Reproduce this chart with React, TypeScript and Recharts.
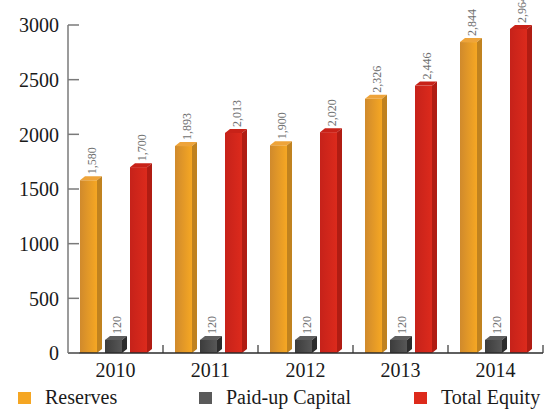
import { BarChart, Bar, XAxis, YAxis, Legend, LabelList } from "recharts";

const years = ["2010", "2011", "2012", "2013", "2014"];
const reserves = [1580, 1893, 1900, 2326, 2844];
const paidUpCapital = [120, 120, 120, 120, 120];
const totalEquity = [1700, 2013, 2020, 2446, 2964];
const yTicks = [0, 500, 1000, 1500, 2000, 2500, 3000];

const seriesNames = ["Reserves", "Paid-up Capital", "Total Equity"];

const W = 552;
const H = 412;
const MARGIN = { top: 25, right: 9, left: 0, bottom: 0 };
const Y_AXIS_W = 68;
const BAND = (W - MARGIN.left - MARGIN.right - Y_AXIS_W) / years.length;
const FONT = "'Liberation Serif', 'Times New Roman', serif";

const tableData = years.map((year, i) => ({
  year,
  reserves: reserves[i],
  paidUp: paidUpCapital[i],
  equity: totalEquity[i],
}));

// face colours for the 3D bars
const palette = {
  reserves: { grad: "gradReserves", top: "#eea43a", side: "#c0821f", legend: "#f5a623" },
  paidUp: { grad: "gradPaid", top: "#5e5e5e", side: "#2c2c2c", legend: "#5a5a5a" },
  equity: { grad: "gradEquity", top: "#c82218", side: "#b01c13", legend: "#dd2a1b" },
};

const DEPTH_X = 5;
const DEPTH_Y = 4;

const makeShape = (key: keyof typeof palette) => (props: any) => {
  const { x, y, width, height } = props;
  if (height == null || width == null) return null;
  const c = palette[key];
  const fw = width - DEPTH_X;
  const bottom = y + height;
  return (
    <g>
      <rect x={x} y={y} width={fw} height={height} fill={`url(#${c.grad})`} />
      <polygon
        points={`${x},${y} ${x + DEPTH_X},${y - DEPTH_Y} ${x + fw + DEPTH_X},${y - DEPTH_Y} ${x + fw},${y}`}
        fill={c.top}
      />
      <polygon
        points={`${x + fw},${y} ${x + fw + DEPTH_X},${y - DEPTH_Y} ${x + fw + DEPTH_X},${bottom - DEPTH_Y} ${x + fw},${bottom}`}
        fill={c.side}
      />
    </g>
  );
};

const valueLabel = (props: any) => {
  const { x, y, width, value } = props;
  const cx = x + width / 2 + 1;
  const ty = y - 6;
  return (
    <text
      x={cx}
      y={ty}
      transform={`rotate(-90, ${cx}, ${ty})`}
      textAnchor="start"
      dominantBaseline="central"
      fontFamily={FONT}
      fontSize={12}
      fill="#707070"
    >
      {Number(value).toLocaleString("en-US")}
    </text>
  );
};

const YTick = (props: any) => {
  const { x, y, payload } = props;
  return (
    <g>
      <text x={x} y={y} dy="0.36em" textAnchor="end" fontFamily={FONT} fontSize={20} fill="#1a1a1a">
        {payload.value}
      </text>
      <line x1={x + 9} x2={x + 20} y1={y} y2={y} stroke="#7a7a7a" strokeWidth={1.5} />
    </g>
  );
};

const XTick = (props: any) => {
  const { x, y, payload } = props;
  const axisY = y - 10;
  const edge = x + BAND / 2;
  return (
    <g>
      <text x={x} y={y} dy="0.72em" textAnchor="middle" fontFamily={FONT} fontSize={20} fill="#1a1a1a">
        {payload.value}
      </text>
      <line x1={edge} x2={edge} y1={axisY} y2={axisY - 8} stroke="#333" strokeWidth={1.2} />
    </g>
  );
};

const legendLefts = [18, 199, 414];
const legendColors = [palette.reserves.legend, palette.paidUp.legend, palette.equity.legend];

const LegendContent = () => (
  <div style={{ position: "relative", height: 29, width: W }}>
    {seriesNames.map((name, i) => (
      <div
        key={name}
        style={{
          position: "absolute",
          left: legendLefts[i],
          top: 0,
          height: 29,
          display: "flex",
          alignItems: "center",
          fontFamily: FONT,
          fontSize: 20,
          color: "#1a1a1a",
          whiteSpace: "nowrap",
        }}
      >
        <span style={{ display: "inline-block", width: 13, height: 12, background: legendColors[i], marginRight: 14 }} />
        <span>{name}</span>
      </div>
    ))}
  </div>
);

export default function App() {
  return (
    <div style={{ position: "absolute", left: 0, top: 0, background: "#fff" }}>
      <BarChart width={W} height={H} data={tableData} margin={MARGIN} barGap={3} barSize={22}>
        <defs>
          <linearGradient id="gradReserves" x1="0" y1="0" x2="1" y2="0">
            <stop offset="0%" stopColor="#d08a2c" />
            <stop offset="100%" stopColor="#f6a723" />
          </linearGradient>
          <linearGradient id="gradPaid" x1="0" y1="0" x2="1" y2="0">
            <stop offset="0%" stopColor="#3c3c3c" />
            <stop offset="100%" stopColor="#575757" />
          </linearGradient>
          <linearGradient id="gradEquity" x1="0" y1="0" x2="1" y2="0">
            <stop offset="0%" stopColor="#c6221a" />
            <stop offset="100%" stopColor="#dc2a1c" />
          </linearGradient>
        </defs>
        <XAxis
          dataKey="year"
          height={30}
          tickLine={false}
          tickSize={0}
          tickMargin={10}
          tick={<XTick />}
          axisLine={{ stroke: "#2a2a2a", strokeWidth: 1.5 }}
        />
        <YAxis
          width={Y_AXIS_W}
          domain={[0, 3000]}
          ticks={yTicks}
          tickLine={false}
          tickSize={0}
          tickMargin={9}
          tick={<YTick />}
          axisLine={{ stroke: "#7a7a7a", strokeWidth: 1.5 }}
        />
        <Legend verticalAlign="bottom" height={29} content={<LegendContent />} />
        <Bar dataKey="reserves" name={seriesNames[0]} shape={makeShape("reserves")} isAnimationActive={false}>
          <LabelList dataKey="reserves" content={valueLabel} />
        </Bar>
        <Bar dataKey="paidUp" name={seriesNames[1]} shape={makeShape("paidUp")} isAnimationActive={false}>
          <LabelList dataKey="paidUp" content={valueLabel} />
        </Bar>
        <Bar dataKey="equity" name={seriesNames[2]} shape={makeShape("equity")} isAnimationActive={false}>
          <LabelList dataKey="equity" content={valueLabel} />
        </Bar>
      </BarChart>
    </div>
  );
}
